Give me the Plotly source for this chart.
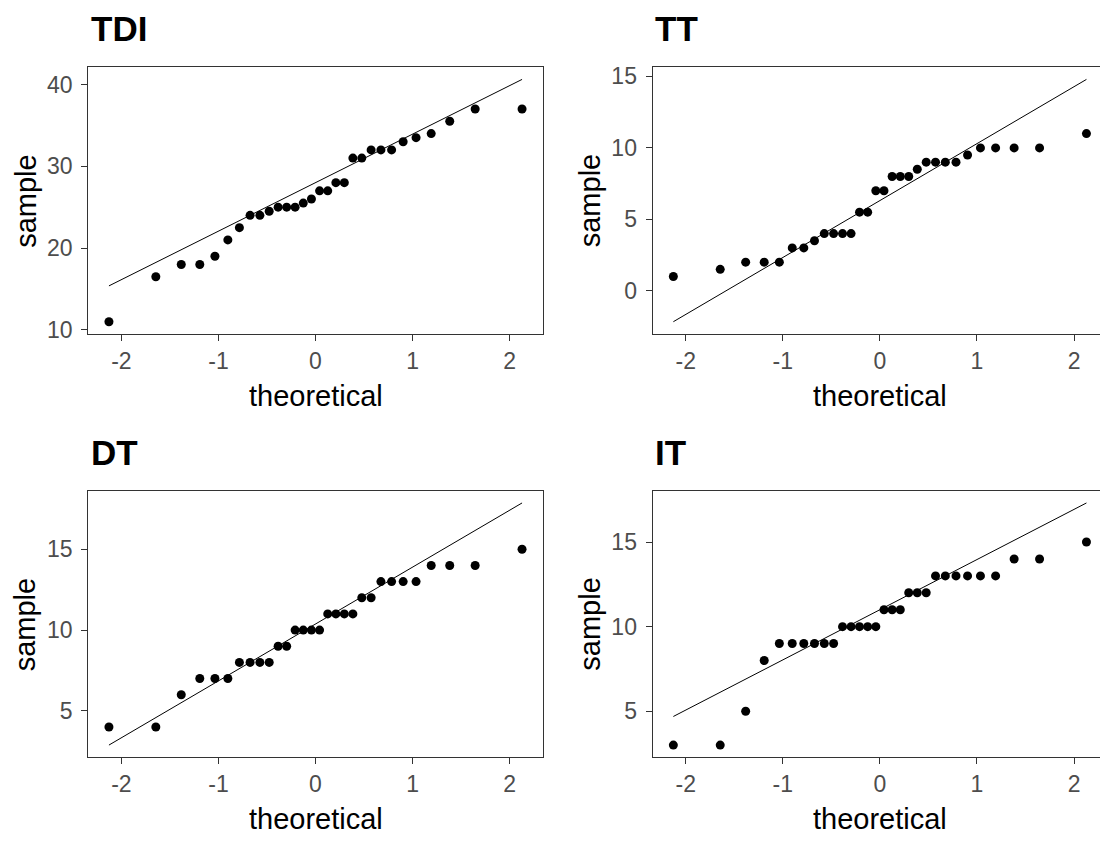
import numpy as np
import plotly.graph_objects as go

# Theoretical normal quantiles for n = 30 (ppoints)
theoretical = [-2.128, -1.645, -1.383, -1.192, -1.036, -0.903, -0.784, -0.674, -0.573, -0.477,
               -0.385, -0.297, -0.210, -0.126, -0.042, 0.042, 0.126, 0.210, 0.297, 0.385,
               0.477, 0.573, 0.674, 0.784, 0.903, 1.036, 1.192, 1.383, 1.645, 2.128]

# Sorted sample values
tdi = [11, 16.5, 18, 18, 19, 21, 22.5, 24, 24, 24.5, 25, 25, 25, 25.5, 26,
       27, 27, 28, 28, 31, 31, 32, 32, 32, 33, 33.5, 34, 35.5, 37, 37]
tt = [1, 1.5, 2, 2, 2, 3, 3, 3.5, 4, 4, 4, 4, 5.5, 5.5, 7,
      7, 8, 8, 8, 8.5, 9, 9, 9, 9, 9.5, 10, 10, 10, 10, 11]
dt = [4, 4, 6, 7, 7, 7, 8, 8, 8, 8, 9, 9, 10, 10, 10,
      10, 11, 11, 11, 11, 12, 12, 13, 13, 13, 13, 14, 14, 14, 15]
it = [3, 3, 5, 8, 9, 9, 9, 9, 9, 9, 10, 10, 10, 10, 10,
      11, 11, 11, 12, 12, 12, 13, 13, 13, 13, 13, 13, 14, 14, 15]

titles = ["TDI", "TT", "DT", "IT"]
samples = [tdi, tt, dt, it]
x_ticks = [-2, -1, 0, 1, 2]
x_tick_labels = ["-2", "-1", "0", "1", "2"]
y_ticks = [[10, 20, 30, 40], [0, 5, 10, 15], [5, 10, 15], [5, 10, 15]]

W, H = 1100, 841
# panel plot areas in pixels: (x0, x1, y0_top, y1_bottom)
panels = [
    (88.3, 542.7, 64.3, 335.0),
    (652.7, 1100.0, 64.3, 335.0),
    (88.3, 542.7, 494.5, 765.0),
    (652.7, 1100.0, 494.5, 765.0),
]
full_width = 542.7 - 88.3

FONT = "Liberation Sans, Arial, sans-serif"
TICK_COL = "#4D4D4D"
LINE_COL = "#333333"

fig = go.Figure()
annotations = []
layout_axes = {}

xq = np.array(theoretical)
xmin, xmax = xq.min(), xq.max()
xpad = 0.05 * (xmax - xmin)
xr0, xr1 = xmin - xpad, xmax + xpad

for k, (title, s) in enumerate(zip(titles, samples)):
    idx = "" if k == 0 else str(k + 1)
    xa, ya = "x" + idx, "y" + idx
    s = np.array(s, dtype=float)
    q1, q3 = np.percentile(s, [25, 75])
    t1, t3 = -0.6745, 0.6745
    slope = (q3 - q1) / (t3 - t1)
    inter = q1 - slope * t1
    lx = np.array([xmin, xmax])
    ly = inter + slope * lx

    fig.add_trace(go.Scatter(x=lx, y=ly, mode="lines", line=dict(color="black", width=1),
                             xaxis=xa, yaxis=ya, showlegend=False, hoverinfo="skip"))
    fig.add_trace(go.Scatter(x=theoretical, y=s, mode="markers",
                             marker=dict(color="black", size=9),
                             xaxis=xa, yaxis=ya, showlegend=False))

    lo = min(s.min(), ly.min())
    hi = max(s.max(), ly.max())
    pad = 0.05 * (hi - lo)

    px0, px1, py0, py1 = panels[k]
    width = px1 - px0
    xr_end = xr0 + (xr1 - xr0) * width / full_width

    common = dict(showgrid=False, zeroline=False, showline=True, linecolor=LINE_COL,
                  linewidth=1.3, ticks="outside", ticklen=6, tickcolor=LINE_COL, tickwidth=1.3,
                  tickfont=dict(family=FONT, size=23, color=TICK_COL))
    layout_axes["xaxis" + idx] = dict(common, domain=[px0 / W, px1 / W], range=[xr0, xr_end],
                                      anchor=ya, tickmode="array", tickvals=x_ticks,
                                      ticktext=x_tick_labels, mirror=True)
    layout_axes["yaxis" + idx] = dict(common, domain=[1 - py1 / H, 1 - py0 / H],
                                      range=[lo - pad, hi + pad], anchor=xa,
                                      tickmode="array", tickvals=y_ticks[k],
                                      ticktext=[str(v) for v in y_ticks[k]],
                                      ticklabelstandoff=4,
                                      mirror=(px1 < W - 1))

    # panel title
    annotations.append(dict(text="<b>" + title + "</b>", x=(px0 + 0.5) / W, y=1 - (py0 - 39) / H,
                            xref="paper", yref="paper", xanchor="left", yanchor="middle",
                            showarrow=False, font=dict(family=FONT, size=35, color="black")))
    # x axis title
    cx = (px0 + px0 + full_width) / 2
    annotations.append(dict(text="theoretical", x=cx / W,
                            y=1 - (py1 + 63) / H, xref="paper", yref="paper",
                            xanchor="center", yanchor="middle", showarrow=False,
                            font=dict(family=FONT, size=29, color="black")))
    # y axis title
    annotations.append(dict(text="sample", x=(px0 - 63) / W, y=1 - (py0 + py1) / 2 / H,
                            xref="paper", yref="paper", xanchor="center", yanchor="middle",
                            textangle=-90, showarrow=False,
                            font=dict(family=FONT, size=29, color="black")))

fig.update_layout(width=W, height=H, margin=dict(l=0, r=0, t=0, b=0),
                  paper_bgcolor="white", plot_bgcolor="white",
                  annotations=annotations, **layout_axes)

fig.write_html("out.html", config={"displayModeBar": False},
               post_script="document.body.style.margin='0';document.body.style.overflow='hidden';")
